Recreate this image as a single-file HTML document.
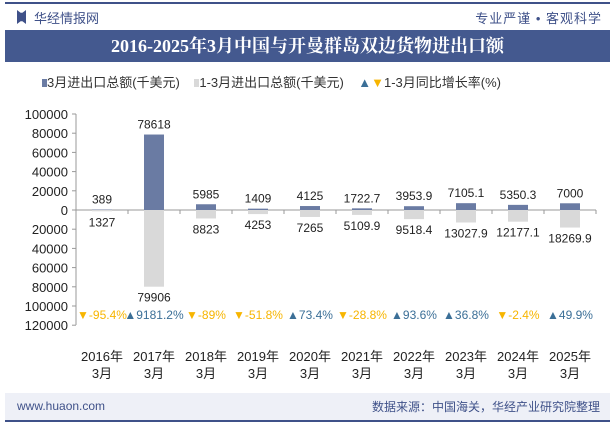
<!DOCTYPE html>
<html><head><meta charset="utf-8"><style>
body{margin:0;width:615px;height:427px;background:#fff;font-family:"Liberation Sans","Noto Sans CJK SC",sans-serif;position:relative;overflow:hidden}
.a{position:absolute}
</style></head><body>
<div class="a" style="left:5px;top:2px;width:605px;height:2px;background:#3f5189"></div>
<div class="a" style="left:17px;top:10px;width:9px;height:14px;background:#3f5189;clip-path:polygon(0 0,40% 20%,60% 20%,100% 0,100% 100%,60% 80%,40% 80%,0 100%)"></div>
<div class="a" style="left:34px;top:8px;font-size:13px;color:#3f5189">华经情报网</div>
<div class="a" style="right:13px;top:8px;font-size:13px;color:#3f5189;letter-spacing:1px">专业严谨 • 客观科学</div>
<div class="a" style="left:5px;top:30px;width:605px;height:32px;background:#44598f;color:#fff;font-size:18px;font-weight:bold;line-height:32px;text-align:center;font-family:'Liberation Serif','Noto Serif CJK SC',serif">2016-2025年3月中国与开曼群岛双边货物进出口额</div>
<div class="a" style="left:42px;top:72px;font-size:13px;color:#333;white-space:nowrap">
<span><span style="display:inline-block;width:5px;height:8px;background:#6a7ba3"></span>3月进出口总额(千美元)</span>&nbsp;&nbsp;&nbsp;
<span><span style="display:inline-block;width:5px;height:8px;background:#d9d9d9"></span>1-3月进出口总额(千美元)</span>&nbsp;&nbsp;&nbsp;
<span><span style="color:#3b6f97">▲</span><span style="color:#f7b500">▼</span>1-3月同比增长率(%)</span></div>
<div class="a" style="left:5px;top:393px;width:605px;height:27px;background:#eef0f7"></div>
<div class="a" style="left:5px;top:420px;width:605px;height:2px;background:#3f5189"></div>
<div class="a" style="left:17px;top:399px;font-size:12px;color:#3f5189">www.huaon.com</div>
<div class="a" style="right:15px;top:398px;font-size:12px;color:#3f5189">数据来源：中国海关，华经产业研究院整理</div>
<svg class="a" style="left:0;top:0" width="615" height="427" id="c"></svg>
<script>
const categories=["2016年","2017年","2018年","2019年","2020年","2021年","2022年","2023年","2024年","2025年"];
const monthly=[389,78618,5985,1409,4125,1722.7,3953.9,7105.1,5350.3,7000];
const cumulative=[1327,79906,8823,4253,7265,5109.9,9518.4,13027.9,12177.1,18269.9];
const growth=[-95.4,9181.2,-89,-51.8,73.4,-28.8,93.6,36.8,-2.4,49.9];
const ticks=[100000,80000,60000,40000,20000,0,-20000,-40000,-60000,-80000,-100000,-120000];
const svg=document.getElementById('c');const NS='http://www.w3.org/2000/svg';
const y=v=>210-v*(96/100000);
const x=i=>102+52*i;
function mk(t,a,txt){const e=document.createElementNS(NS,t);for(const k in a)e.setAttribute(k,a[k]);if(txt!==undefined)e.textContent=txt;svg.appendChild(e);return e;}
let ax=mk('line',{x1:76,y1:114,x2:76,y2:325,stroke:'#999'});

ticks.forEach(t=>{const e=mk('text',{x:68,y:y(t)+5,'text-anchor':'end','font-size':13,fill:'#222'},String(Math.abs(t)));

mk('line',{x1:72,x2:76,y1:y(t),y2:y(t),stroke:'#999'});});
let z=mk('line',{x1:76,y1:210,x2:596,y2:210,stroke:'#999'});

categories.forEach((c,i)=>{
mk('line',{x1:x(i)+26,x2:x(i)+26,y1:210,y2:214,stroke:'#999'});
let b=mk('rect',{x:x(i)-10,y:y(monthly[i]),width:20,height:210-y(monthly[i]),fill:'#6a7ba3'});

let b2=mk('rect',{x:x(i)-10,y:210,width:20,height:y(-cumulative[i])-210,fill:'#d9d9d9'});

let l1=mk('text',{x:x(i),y:y(monthly[i])-6,'text-anchor':'middle','font-size':12,fill:'#222'},String(monthly[i]));

let l2=mk('text',{x:x(i),y:y(-cumulative[i])+15,'text-anchor':'middle','font-size':12,fill:'#222'},String(cumulative[i]));

const up=growth[i]>=0;
let g=mk('text',{x:x(i),y:319,'text-anchor':'middle','font-size':12,fill:up?'#3b6f97':'#f7b500'},(up?'▲':'▼')+growth[i]+'%');

let c1=mk('text',{x:x(i),y:361,'text-anchor':'middle','font-size':13,fill:'#222'},c);

mk('text',{x:x(i),y:378,'text-anchor':'middle','font-size':13,fill:'#222'},'3月');
});
</script>
</body></html>
